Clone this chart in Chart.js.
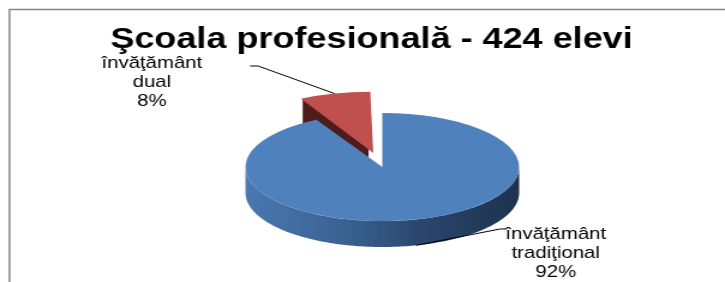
<!DOCTYPE html>
<html>
<head>
<meta charset="utf-8">
<script src="https://cdn.jsdelivr.net/npm/chart.js@4/dist/chart.umd.min.js"></script>
<style>
  html, body { margin: 0; padding: 0; background: #ffffff; overflow: hidden; }
  #stage { width: 725px; height: 282px; overflow: hidden; position: relative; }
  #wrap { position: absolute; left: 0; top: 0; width: 604px; height: 282px; transform: scaleX(1.2003); transform-origin: 0 0; }
  canvas { display: block; }
</style>
</head>
<body>
<div id="stage"><div id="wrap"><canvas id="c" width="604" height="282"></canvas></div></div>
<script>
// ---- data ----
const titleText = 'Şcoala profesională - 424 elevi';
const categories = ['învăţământ tradiţional', 'învăţământ dual'];
const values = [92, 8];
const topColors = ['#4f81bd', '#c0504d'];
const explodeOffsets = [0, 121];

// ---- helpers ----
function sliceGeom(a) {
  const p = a.getProps(['x', 'y', 'startAngle', 'endAngle', 'outerRadius']);
  const off = (a.options.offset || 0);
  const circ = p.endAngle - p.startAngle;
  const fix = 1 - Math.sin(Math.min(Math.PI, circ));
  const disp = off / 4 * (1 + fix);
  const half = (p.startAngle + p.endAngle) / 2;
  return {
    cx: p.x, cy: p.y, r: p.outerRadius, s: p.startAngle, e: p.endAngle, half,
    ax: p.x + Math.cos(half) * disp, ay: p.y + Math.sin(half) * disp
  };
}
function toScreen(x, y, cy, o) {
  return [x + o.shiftX, cy + (y - cy) * o.squash];
}

const borderPlugin = {
  id: 'frame',
  beforeDraw(chart) {
    const ctx = chart.ctx;
    ctx.save();
    ctx.strokeStyle = '#868686';
    ctx.lineWidth = 1.5;
    ctx.beginPath();
    ctx.moveTo(chart.width, 9.5);
    ctx.lineTo(7.9, 9.5);
    ctx.lineTo(7.9, chart.height);
    ctx.stroke();
    ctx.restore();
  }
};

const pie3d = {
  id: 'pie3d',
  beforeDatasetsDraw(chart, args, o) {
    const ctx = chart.ctx;
    const arcs = chart.getDatasetMeta(0).data;
    // back slices first (those whose middle lies in the upper half)
    const order = arcs.map((a, i) => i).sort((i, j) => Math.sin(sliceGeom(arcs[i]).half) - Math.sin(sliceGeom(arcs[j]).half));
    for (const i of order) {
      const a = arcs[i];
      const g = sliceGeom(a);
      const D = o.depth;
      // radial faces
      const faces = [];
      if (Math.cos(g.s) < -0.001) faces.push(g.s);
      if (Math.cos(g.e) > 0.001) faces.push(g.e);
      for (const ang of faces) {
        const A = toScreen(g.ax, g.ay, g.cy, o);
        const C = toScreen(g.ax + g.r * Math.cos(ang), g.ay + g.r * Math.sin(ang), g.cy, o);
        ctx.save();
        ctx.beginPath();
        ctx.moveTo(A[0], A[1]);
        ctx.lineTo(C[0], C[1]);
        ctx.lineTo(C[0], C[1] + D);
        ctx.lineTo(A[0], A[1] + D);
        ctx.closePath();
        ctx.fillStyle = o.faceColors[i];
        ctx.fill();
        ctx.restore();
      }
      // outer curved side (front half only)
      for (const k of [-1, 0, 1]) {
        const lo = Math.max(g.s, k * 2 * Math.PI);
        const hi = Math.min(g.e, k * 2 * Math.PI + Math.PI);
        if (hi <= lo) continue;
        const n = 120;
        ctx.save();
        ctx.beginPath();
        for (let t = 0; t <= n; t++) {
          const ang = lo + (hi - lo) * t / n;
          const P = toScreen(g.ax + g.r * Math.cos(ang), g.ay + g.r * Math.sin(ang), g.cy, o);
          if (t === 0) ctx.moveTo(P[0], P[1]); else ctx.lineTo(P[0], P[1]);
        }
        for (let t = n; t >= 0; t--) {
          const ang = lo + (hi - lo) * t / n;
          const P = toScreen(g.ax + g.r * Math.cos(ang), g.ay + g.r * Math.sin(ang), g.cy, o);
          ctx.lineTo(P[0], P[1] + D);
        }
        ctx.closePath();
        const x0 = g.ax + o.shiftX - g.r, x1 = g.ax + o.shiftX + g.r;
        const grad = ctx.createLinearGradient(x0, 0, x1, 0);
        o.sideStops[i].forEach(([pos, col]) => grad.addColorStop(pos, col));
        ctx.fillStyle = grad;
        ctx.fill();
        ctx.restore();
      }
      // top face, drawn by the library's arc element under a squash transform
      ctx.save();
      ctx.translate(o.shiftX, 0);
      ctx.translate(0, g.cy);
      ctx.scale(1, o.squash);
      ctx.translate(0, -g.cy);
      a.draw(ctx);
      ctx.restore();
    }
    return false;
  }
};

const pieLabels = {
  id: 'pieLabels',
  afterDraw(chart, args, o) {
    const ctx = chart.ctx;
    const arcs = chart.getDatasetMeta(0).data;
    const p3 = chart.options.plugins.pie3d;
    const total = values.reduce((s, v) => s + v, 0);
    arcs.forEach((a, i) => {
      const g = sliceGeom(a);
      let anchor = toScreen(g.ax + g.r * Math.cos(g.half), g.ay + g.r * Math.sin(g.half), g.cy, p3);
      if (Math.sin(g.half) > 0) anchor = [anchor[0], anchor[1] + p3.depth];
      ctx.save();
      ctx.strokeStyle = '#000';
      ctx.lineWidth = 1;
      ctx.beginPath();
      ctx.moveTo(anchor[0], anchor[1]);
      o.leaders[i].forEach(pt => ctx.lineTo(pt[0], pt[1]));
      ctx.stroke();
      const lines = categories[i].split(' ').concat([Math.round(values[i] / total * 100) + '%']);
      ctx.fillStyle = '#000';
      ctx.font = o.font;
      ctx.textAlign = 'center';
      ctx.textBaseline = 'alphabetic';
      lines.forEach((t, k) => ctx.fillText(t, o.centers[i][0], o.centers[i][1] + k * o.lineHeight));
      ctx.restore();
    });
  }
};

new Chart(document.getElementById('c'), {
  type: 'pie',
  data: {
    labels: categories,
    datasets: [{
      data: values,
      backgroundColor: topColors,
      borderWidth: 0,
      offset: explodeOffsets
    }]
  },
  options: {
    responsive: false,
    devicePixelRatio: 1,
    animation: false,
    events: [],
    radius: 114,
    layout: { padding: { top: 21.5, bottom: 5.5, left: 15, right: 0 } },
    plugins: {
      legend: { display: false },
      tooltip: { enabled: false },
      title: {
        display: true,
        text: titleText,
        color: '#000000',
        font: { family: "'Liberation Sans', Arial, sans-serif", size: 30, weight: 'bold', lineHeight: 1.2 },
        padding: { top: 0, bottom: 0 }
      },
      pie3d: {
        shiftX: 9,
        squash: 0.474,
        depth: 26,
        faceColors: ['#2a4a72', '#4e1c1b'],
        sideStops: [
          [[0, '#4a78b2'], [0.35, '#3b6393'], [0.65, '#29466c'], [1, '#1d324f']],
          [[0, '#5a2221'], [1, '#3e1514']]
        ]
      },
      pieLabels: {
        font: "17px 'Liberation Sans', Arial, sans-serif",
        lineHeight: 19,
        centers: [[463, 239], [126.5, 68]],
        leaders: [[[416.6, 229], [421.6, 229]], [[215, 66], [208.3, 66]]]
      }
    }
  },
  plugins: [borderPlugin, pie3d, pieLabels]
});
</script>
</body>
</html>
